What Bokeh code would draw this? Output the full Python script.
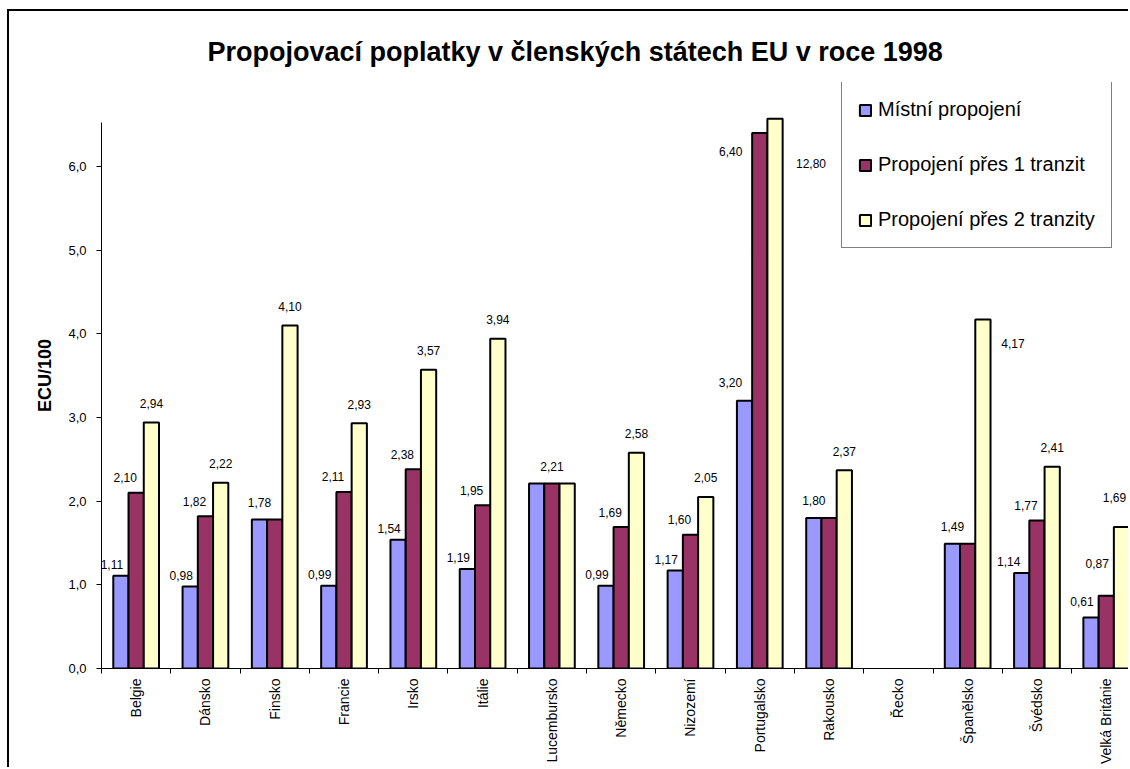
import numpy as np
from bokeh.plotting import figure
from bokeh.models import Range1d, FixedTicker, ColumnDataSource, Legend, LegendItem
from bokeh.embed import file_html
from bokeh.resources import INLINE
from bokeh.core.properties import value

# ---------------- data ----------------
categories = ["Belgie", "Dánsko", "Finsko", "Francie", "Irsko", "Itálie", "Lucembursko",
              "Německo", "Nizozemí", "Portugalsko", "Rakousko", "Řecko", "Španělsko",
              "Švédsko", "Velká Británie"]
series_names = ["Místní propojení", "Propojení přes 1 tranzit", "Propojení přes 2 tranzity"]
local_vals = [1.11, 0.98, 1.78, 0.99, 1.54, 1.19, 2.21, 0.99, 1.17, 3.20, 1.80, None, 1.49, 1.14, 0.61]
transit1_vals = [2.10, 1.82, 1.78, 2.11, 2.38, 1.95, 2.21, 1.69, 1.60, 6.40, 1.80, None, 1.49, 1.77, 0.87]
transit2_vals = [2.94, 2.22, 4.10, 2.93, 3.57, 3.94, 2.21, 2.58, 2.05, 12.80, 2.37, None, 4.17, 2.41, 1.69]
y_ticks = [0, 1, 2, 3, 4, 5, 6]
title_text = "Propojovací poplatky v členských státech EU v roce 1998"
y_label = "ECU/100"

# ---------------- style ----------------
colors = ["#9999FF", "#993366", "#FFFFCC"]
FONT = "Liberation Sans"
BAR_W = 0.22
offsets = [-BAR_W, 0.0, BAR_W]
AXIS_TOP = 6.526      # visible end of the value axis
BAR_CAP = 6.57        # bars taller than the axis are cut here
Y_END = 7.004         # frame extends above the axis to hold the legend
default_lbl = [(-9, -11), (-11, -15), (0, -19)]
# manual nudges of a few data labels (px), keyed by (category index, series index)
nudges = {(9, 0): (-14, -18), (9, 1): (-29, 18), (9, 2): (36, 45),
          (12, 2): (30, 24), (13, 0): (-13, -12),
          (14, 0): (-9, -16), (14, 1): (-9, -32), (14, 2): (-7, -30)}

def fmt(v):
    return f"{v:.2f}".replace(".", ",")

p = figure(width=1121, height=758, x_range=Range1d(0.5, 15.35), y_range=Range1d(0, Y_END),
           output_backend="svg", toolbar_location=None,
           min_border_left=92, min_border_top=71, min_border_bottom=101, min_border_right=0)
p.styles = {"margin-left": "7px", "margin-top": "9px",
            "border-left": "2px solid black", "border-top": "2px solid black"}

all_vals = [local_vals, transit1_vals, transit2_vals]
renderers = []
for k, vals in enumerate(all_vals):
    xs = [i + 1 + offsets[k] for i, v in enumerate(vals) if v is not None]
    tops = [min(v, BAR_CAP) for v in vals if v is not None]
    src = ColumnDataSource(dict(x=xs, top=tops))
    r = p.vbar(x="x", top="top", width=BAR_W, bottom=0, source=src,
               fill_color=colors[k], line_color="black", line_width=2)
    renderers.append(r)

# data labels
lx, ly, lt, lxo, lyo = [], [], [], [], []
for i in range(len(categories)):
    b, r_, y_ = local_vals[i], transit1_vals[i], transit2_vals[i]
    if b is None:
        continue
    if b == r_ == y_:
        lx.append(i + 1 + offsets[1]); ly.append(r_); lt.append(fmt(r_)); lxo.append(0); lyo.append(-17)
        continue
    for k, v in enumerate((b, r_, y_)):
        if k == 1 and r_ == b:
            continue
        dx, dy = default_lbl[k]
        if k == 0 and r_ == b:
            dx, dy = 0, -17
        dx, dy = nudges.get((i, k), (dx, dy))
        lx.append(i + 1 + offsets[k]); ly.append(min(v, BAR_CAP)); lt.append(fmt(v))
        lxo.append(dx); lyo.append(dy)
lsrc = ColumnDataSource(dict(x=lx, y=ly, text=lt, xo=lxo, yo=lyo))
p.text(x="x", y="y", text="text", x_offset="xo", y_offset="yo", source=lsrc,
       text_font=value(FONT), text_font_size="12px", text_color="black",
       text_align="center", text_baseline="middle")

# axes
p.xgrid.visible = False
p.ygrid.visible = False
p.outline_line_color = None

xa = p.xaxis[0]
xa.ticker = FixedTicker(ticks=[i + 1 for i in range(len(categories))],
                        minor_ticks=[i + 0.5 for i in range(len(categories) + 1)])
xa.major_label_overrides = {i + 1: c for i, c in enumerate(categories)}
xa.major_label_orientation = np.pi / 2
xa.major_tick_line_color = None
xa.major_tick_out = 5
xa.major_tick_in = 0
xa.minor_tick_line_color = "black"
xa.minor_tick_out = 5
xa.minor_tick_in = 0
xa.major_label_standoff = 5
xa.major_label_text_font = FONT
xa.major_label_text_font_size = "14px"
xa.major_label_text_color = "black"
xa.axis_line_color = "black"

ya = p.yaxis[0]
ya.ticker = FixedTicker(ticks=y_ticks, minor_ticks=[])
ya.bounds = (0, AXIS_TOP)
ya.major_label_overrides = {t: f"{t:.1f}".replace(".", ",") for t in y_ticks}
ya.major_tick_out = 5
ya.major_tick_in = 0
ya.major_tick_line_color = "black"
ya.minor_tick_line_color = None
ya.major_label_standoff = 10
ya.major_label_text_font = FONT
ya.major_label_text_font_size = "13px"
ya.major_label_text_color = "black"
ya.axis_line_color = "black"
ya.axis_label = y_label
ya.axis_label_text_font = FONT
ya.axis_label_text_font_size = "18px"
ya.axis_label_text_font_style = "bold"
ya.axis_label_text_color = "black"
ya.axis_label_standoff = 10

# title
p.title.text = title_text
p.title.text_font = FONT
p.title.text_font_size = "27px"
p.title.text_font_style = "bold"
p.title.text_color = "black"
p.title.align = "left"
p.title.offset = 106
p.title.standoff = 32

# legend
legend = Legend(items=[LegendItem(label=series_names[k], renderers=[renderers[k]]) for k in range(3)],
                location=(740, 420), orientation="vertical")
legend.label_text_font = FONT
legend.label_text_font_size = "20px"
legend.label_text_color = "black"
legend.glyph_width = 14
legend.glyph_height = 14
legend.label_standoff = 6
legend.padding = 16
legend.spacing = 32
legend.margin = 0
legend.border_line_color = "black"
legend.border_line_width = 1
legend.background_fill_color = "white"
legend.background_fill_alpha = 1.0
p.add_layout(legend, "center")

open("out.html", "w").write(file_html(p, INLINE))
